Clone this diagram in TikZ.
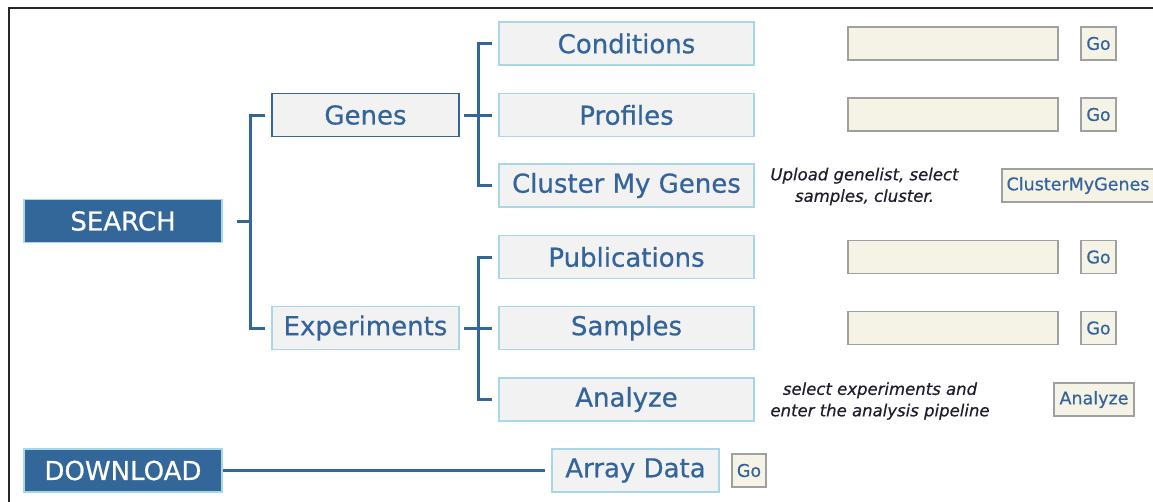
\documentclass[tikz,border=0pt]{standalone}
\usepackage{fontspec}
\setmainfont{DejaVu Sans}
\newfontfamily\labelfont{DejaVu Sans}[FakeBold=0.6]
\newfontfamily\notefont{DejaVu Sans Oblique}[FakeBold=0.5]
\definecolor{navy}{HTML}{336699}
\definecolor{linkblue}{HTML}{34649C}
\definecolor{paleedge}{HTML}{A8D8E6}
\definecolor{boxfill}{HTML}{F2F2F2}
\definecolor{cream}{HTML}{F5F3E6}
\definecolor{fieldedge}{HTML}{A0A0A0}
\definecolor{notetext}{HTML}{1E1E2E}
\tikzset{
  headbox/.style={rectangle, draw=paleedge, line width=1.5pt, fill=navy, text=white,
    inner sep=0pt, minimum width=198pt, minimum height=43pt,
    font=\labelfont\fontsize{26}{30}\selectfont},
  itembox/.style={rectangle, draw=paleedge, line width=1.5pt, fill=boxfill, text=linkblue,
    inner sep=0pt, minimum height=43pt, font=\labelfont\fontsize{26}{30}\selectfont},
  field/.style={rectangle, draw=fieldedge, line width=1.5pt, fill=cream,
    inner sep=0pt, minimum width=210pt, minimum height=33pt},
  button/.style={rectangle, draw=fieldedge, line width=1.5pt, fill=cream, text=linkblue,
    inner sep=0pt, minimum height=33pt, font=\labelfont\fontsize{17.5}{20}\selectfont},
  note/.style={align=center, text=notetext, inner sep=0pt,
    font=\notefont\fontsize{16.5}{21.5}\selectfont},
  conn/.style={draw=navy, line width=3pt}
}
\begin{document}
\begin{tikzpicture}[x=1pt,y=-1pt]
\useasboundingbox (0,0) rectangle (1153,501);
\clip (0,0) rectangle (1153,501);
\fill[white] (0,0) rectangle (1153,501);
% outer frame
\draw[line width=2pt, black!85] (9,8) rectangle (1175,520);

% top-level sections
\node[headbox] (search) at (123,221) {SEARCH};
\node[headbox] (download) at (123,470.5) {DOWNLOAD};

% second level
\node[itembox, draw=navy, minimum width=187pt] (genes) at (365.5,115) {Genes};
\node[itembox, minimum width=187pt] (experiments) at (365.5,328) {Experiments};

% third level
\node[itembox, minimum width=255pt] (conditions) at (626.5,43.5) {Conditions};
\node[itembox, minimum width=255pt] (profiles) at (626.5,115) {Profiles};
\node[itembox, minimum width=255pt] (cluster) at (626.5,185.5) {Cluster My Genes};
\node[itembox, minimum width=255pt] (publications) at (626.5,257) {Publications};
\node[itembox, minimum width=255pt] (samples) at (626.5,328) {Samples};
\node[itembox, minimum width=255pt] (analyze) at (626.5,399.5) {Analyze};
\node[itembox, minimum width=167pt] (arraydata) at (635.5,470.5) {Array Data};

% query fields and buttons
\node[field] (fcond) at (953,43.5) {};
\node[field] (fprof) at (953,114.5) {};
\node[field] (fpub) at (953,257) {};
\node[field] (fsamp) at (953,328) {};
\node[button, minimum width=35pt] (gocond) at (1098.5,43.5) {Go};
\node[button, minimum width=35pt] (goprof) at (1098.5,114.5) {Go};
\node[button, minimum width=35pt] (gopub) at (1098.5,257) {Go};
\node[button, minimum width=35pt] (gosamp) at (1098.5,328) {Go};
\node[button, minimum width=34pt] (goarray) at (749,470.5) {Go};
\node[button, minimum width=152pt] (clusterbtn) at (1078,185.5) {ClusterMyGenes};
\node[button, minimum width=80pt] (analyzebtn) at (1094,399.5) {Analyze};

% notes
\node[note] (clusternote) at (864.5,186.5) {Upload genelist, select\\samples, cluster.};
\node[note] (analyzenote) at (880,401) {select experiments and\\enter the analysis pipeline};

% SEARCH tree
\draw[conn, shorten <=14pt] (search.east) -- ++(28,0) coordinate (sj);
\draw[conn, shorten >=6pt] (sj) |- (genes.west);
\draw[conn, shorten >=6pt] (sj) |- (experiments.west);

% Genes tree
\draw[conn, shorten <=4pt] (genes.east) -- ++(19,0) coordinate (gj);
\draw[conn, shorten >=6pt] (gj) |- (conditions.west);
\draw[conn, shorten >=6pt] (gj) |- (profiles.west);
\draw[conn, shorten >=6pt] (gj) |- (cluster.west);

% Experiments tree
\draw[conn, shorten <=4pt] (experiments.east) -- ++(19,0) coordinate (ej);
\draw[conn, shorten >=6pt] (ej) |- (publications.west);
\draw[conn, shorten >=6pt] (ej) |- (samples.west);
\draw[conn, shorten >=6pt] (ej) |- (analyze.west);

% DOWNLOAD link
\draw[conn, shorten >=6pt] (download.east) -- (arraydata.west);
\end{tikzpicture}
\end{document}
